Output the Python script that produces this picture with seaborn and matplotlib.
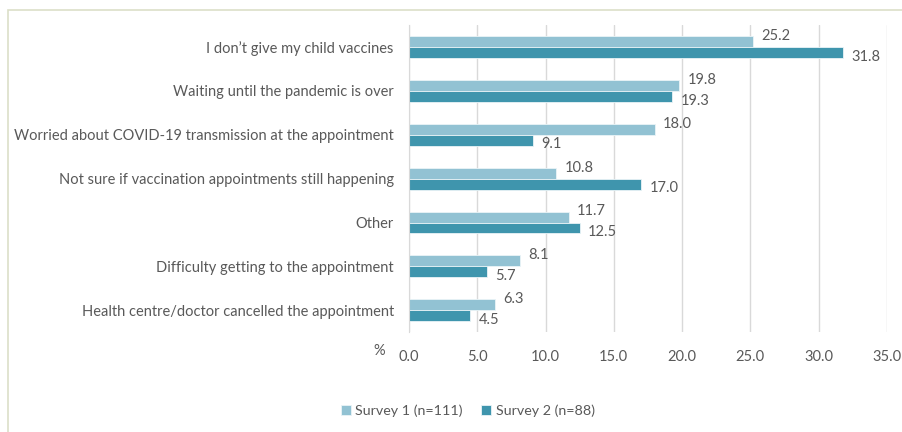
import matplotlib
matplotlib.use("Agg")
import matplotlib.pyplot as plt
from matplotlib.patches import Rectangle
import pandas as pd
import seaborn as sns

categories = [
    "I don\u2019t give my child vaccines",
    "Waiting until the pandemic is over",
    "Worried about COVID-19 transmission at the appointment",
    "Not sure if vaccination appointments still happening",
    "Other",
    "Difficulty getting to the appointment",
    "Health centre/doctor cancelled the appointment",
]
survey1 = [25.2, 19.8, 18.0, 10.8, 11.7, 8.1, 6.3]
survey2 = [31.8, 19.3, 9.1, 17.0, 12.5, 5.7, 4.5]
series_names = ["Survey 1 (n=111)", "Survey 2 (n=88)"]
x_ticks = [0, 5, 10, 15, 20, 25, 30, 35]

df = pd.DataFrame({
    "Reason": categories * 2,
    "Value": survey1 + survey2,
    "Survey": [series_names[0]] * len(categories) + [series_names[1]] * len(categories),
})

sns.set_style("white")
plt.rcParams["font.family"] = ["Lato", "DejaVu Sans"]
text_color = "#595959"

fig = plt.figure(figsize=(9.03, 4.32), dpi=100)
ax = fig.add_axes([0.453, 0.231, 0.529, 0.711])

sns.barplot(data=df, x="Value", y="Reason", hue="Survey", orient="h",
            palette=["#92C2D3", "#3F95AD"], saturation=1, width=0.5, gap=0,
            edgecolor="#EAF4F7", linewidth=0.6, ax=ax, legend=True)

# value labels: light series nudged up, dark series nudged down (as in the original)
for cont, dy in zip(ax.containers, [4, -3]):
    for bar in cont:
        w = bar.get_width()
        yc = bar.get_y() + bar.get_height() / 2
        ax.annotate(f"{w:.1f}", (w, yc), xytext=(6, dy), textcoords="offset points",
                    ha="left", va="center", fontsize=10.5, color=text_color)

ax.set_xlim(0, 35)
ax.set_ylim(6.5, -0.5)
ax.set_xticks(x_ticks)
ax.set_xticklabels([f"{t:.1f}" for t in x_ticks])
ax.set_xlabel("")
ax.set_ylabel("")
ax.grid(axis="x", color="#D9D9D9", linewidth=1)
ax.set_axisbelow(True)
for side in ["top", "right", "bottom"]:
    ax.spines[side].set_visible(False)
ax.spines["left"].set_color("#D9D9D9")
ax.tick_params(axis="both", length=0, labelsize=10.5, colors=text_color)
ax.tick_params(axis="y", pad=11)
ax.tick_params(axis="x", pad=13)

ax.text(-0.05, -0.06, "%", transform=ax.transAxes, ha="right", va="center",
        fontsize=10.5, color=text_color)

handles, labels = ax.get_legend_handles_labels()
ax.get_legend().remove()
fig.legend(handles, labels, loc="center", bbox_to_anchor=(0.518, 0.05), ncol=2,
           frameon=False, fontsize=10.3, handlelength=0.7, handleheight=0.7,
           handletextpad=0.3, columnspacing=1.3, labelcolor=text_color)

fig.patches.append(Rectangle((8 / 903, -0.1), 1.2, 1 - 10 / 432 + 0.1,
                             transform=fig.transFigure, fill=False,
                             edgecolor="#DCDFC8", linewidth=1.2))

fig.savefig("out.png", dpi=100)
